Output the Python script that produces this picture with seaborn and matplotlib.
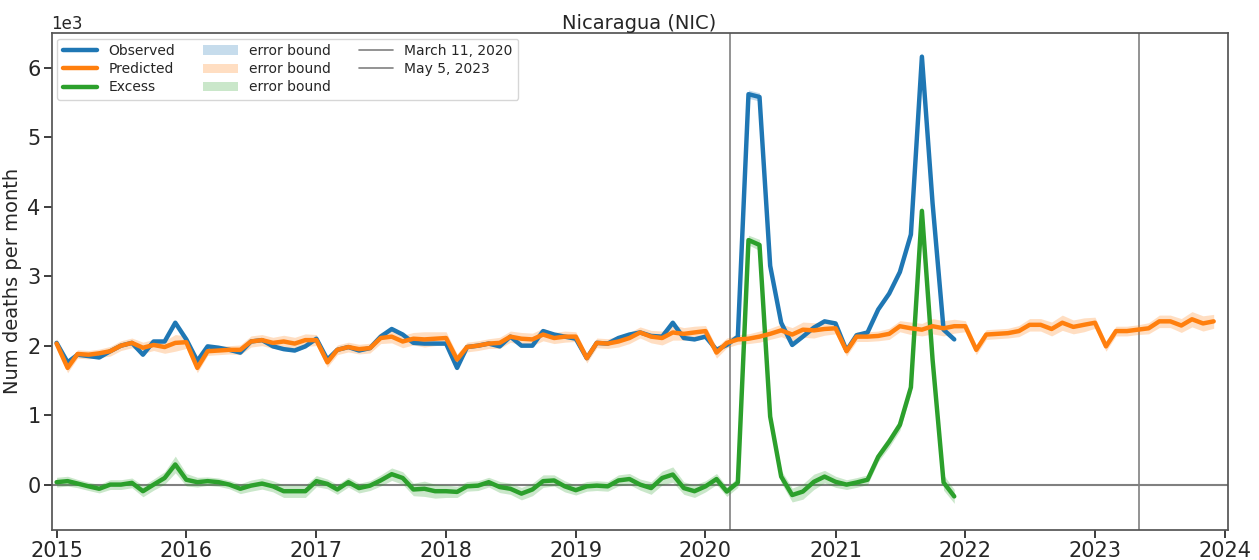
import matplotlib
import matplotlib.pyplot as plt
import matplotlib.dates as mdates
import pandas as pd
import seaborn as sns
from matplotlib.lines import Line2D
from matplotlib.patches import Patch

matplotlib.use("Agg")

sns.set_theme(style="ticks")
plt.rcParams["font.family"] = ["DejaVu Sans"]

# monthly values (deaths per month)
observed = [
    2040, 1760, 1870, 1850, 1830, 1920, 2000, 2040, 1870, 2060, 2060, 2330,
    2090, 1780, 1990, 1970, 1940, 1900, 2060, 2080, 1990, 1950, 1930, 1990,
    2100, 1800, 1940, 1980, 1930, 1965, 2130, 2240, 2160, 2040, 2030, 2030,
    2030, 1680, 1980, 2000, 2030, 1990, 2130, 2000, 2000, 2210, 2160, 2130,
    2100, 1820, 2040, 2030, 2110, 2160, 2190, 2140, 2130, 2330, 2110, 2090,
    2130, 1940, 2010, 2130, 5620, 5580, 3150, 2330, 2010, 2130, 2260, 2350,
    2320, 1930, 2150, 2190, 2520, 2750, 3060, 3600, 6160, 4050, 2230, 2090,
]
predicted = [
    2030, 1680, 1880, 1870, 1890, 1920, 2000, 2040, 1970, 2010, 1980, 2040,
    2050, 1680, 1920, 1930, 1940, 1940, 2060, 2080, 2040, 2060, 2030, 2080,
    2080, 1760, 1940, 1980, 1950, 1965, 2110, 2130, 2060, 2100, 2090, 2100,
    2110, 1800, 1980, 2000, 2030, 2040, 2130, 2100, 2090, 2160, 2110, 2130,
    2130, 1820, 2040, 2030, 2060, 2110, 2190, 2130, 2110, 2190, 2170, 2190,
    2210, 1900, 2040, 2090, 2100, 2130, 2170, 2220, 2160, 2230, 2220, 2240,
    2250, 1920, 2130, 2130, 2140, 2170, 2280, 2250, 2230, 2280, 2250, 2280,
    2280, 1940, 2160, 2170, 2180, 2210, 2300, 2300, 2240, 2330, 2270, 2300,
    2330, 1990, 2210, 2210, 2230, 2250, 2350, 2350, 2290, 2380, 2320, 2350,
]
excess = [
    35, 50, 15, -25, -60, 0, 0, 25, -95, 0, 95, 290,
    70, 35, 50, 35, 0, -60, -15, 15, -25, -95, -95, -95,
    50, 10, -70, 35, -50, -15, 60, 150, 95, -70, -60, -95,
    -95, -105, -25, -15, 35, -35, -60, -130, -70, 50, 60, -25,
    -80, -25, -15, -25, 60, 80, 0, -50, 95, 145, -50, -95,
    -25, 80, -100, 30, 3520, 3450, 980, 115, -150, -100, 40, 115,
    40, 0, 30, 70, 400, 620, 860, 1400, 3940, 1800, 30, -170,
]
# half widths of the shaded error bounds
obs_err = [
    20, 20, 20, 20, 20, 20, 20, 20, 20, 20, 20, 30,
    20, 20, 20, 20, 20, 20, 20, 20, 20, 20, 20, 20,
    20, 20, 20, 20, 20, 20, 20, 25, 20, 20, 20, 20,
    20, 20, 20, 20, 20, 20, 20, 20, 20, 20, 20, 20,
    20, 20, 20, 20, 20, 20, 20, 20, 20, 25, 20, 20,
    20, 20, 20, 20, 60, 60, 35, 25, 20, 20, 20, 25,
    25, 20, 20, 20, 25, 30, 30, 35, 60, 35, 25, 20,
]
pred_err = [
    70, 70, 60, 60, 60, 70, 70, 70, 80, 80, 90, 120,
    90, 70, 60, 60, 60, 70, 80, 80, 80, 90, 90, 90,
    80, 70, 70, 70, 70, 70, 80, 90, 90, 90, 110, 100,
    90, 80, 70, 70, 70, 80, 80, 90, 90, 90, 80, 80,
    70, 70, 70, 70, 80, 80, 80, 90, 100, 110, 90, 90,
    80, 80, 70, 70, 70, 80, 80, 90, 100, 110, 110, 90,
    80, 70, 70, 70, 70, 80, 80, 90, 90, 110, 110, 100,
    80, 70, 70, 70, 70, 80, 90, 90, 100, 110, 100, 100,
    80, 70, 70, 70, 70, 80, 90, 90, 100, 110, 110, 100,
]

country = "Nicaragua (NIC)"
event_dates = ["2020-03-11", "2023-05-05"]
event_labels = ["March 11, 2020", "May 5, 2023"]

obs_months = pd.date_range("2015-01-01", periods=len(observed), freq="MS")
pred_months = pd.date_range("2015-01-01", periods=len(predicted), freq="MS")

df_obs = pd.DataFrame({"month": obs_months, "value": observed, "err": obs_err})
df_pred = pd.DataFrame({"month": pred_months, "value": predicted, "err": pred_err})
df_exc = pd.DataFrame({"month": obs_months, "value": excess,
                       "err": pred_err[:len(excess)]})

colors = sns.color_palette("tab10")
c_obs, c_pred, c_exc = colors[0], colors[1], colors[2]

fig = plt.figure(figsize=(12.59, 5.6), dpi=100)
ax = fig.add_axes([0.041, 0.054, 0.934, 0.887])

ax.axhline(0, color="gray", lw=1.5, zorder=1)
for d in event_dates:
    ax.axvline(pd.Timestamp(d), color="gray", lw=1.2, zorder=1)

for df, col in [(df_obs, c_obs), (df_pred, c_pred), (df_exc, c_exc)]:
    ax.fill_between(df["month"], df["value"] - df["err"], df["value"] + df["err"],
                    color=col, alpha=0.25, lw=0, zorder=2)

sns.lineplot(data=df_obs, x="month", y="value", color=c_obs, lw=3.2, ax=ax, zorder=3)
sns.lineplot(data=df_pred, x="month", y="value", color=c_pred, lw=3.2, ax=ax, zorder=4)
sns.lineplot(data=df_exc, x="month", y="value", color=c_exc, lw=3.2, ax=ax, zorder=3)

ax.set_xlim(pd.Timestamp("2014-12-18"), pd.Timestamp("2024-01-09"))
ax.set_ylim(-650, 6500)
ax.xaxis.set_major_locator(mdates.YearLocator())
ax.xaxis.set_major_formatter(mdates.DateFormatter("%Y"))
ax.ticklabel_format(axis="y", style="sci", scilimits=(3, 3))
ax.yaxis.get_offset_text().set_fontsize(12)
ax.tick_params(labelsize=15, pad=2)
ax.set_xlabel("")
ax.set_ylabel("Num deaths per month", fontsize=14, labelpad=4)
ax.set_title(country, fontsize=14, pad=3)
for s in ax.spines.values():
    s.set_color("#555555")

handles = [
    Line2D([], [], color=c_obs, lw=3.2, label="Observed"),
    Line2D([], [], color=c_pred, lw=3.2, label="Predicted"),
    Line2D([], [], color=c_exc, lw=3.2, label="Excess"),
    Patch(color=c_obs, alpha=0.25, lw=0, label="error bound"),
    Patch(color=c_pred, alpha=0.25, lw=0, label="error bound"),
    Patch(color=c_exc, alpha=0.25, lw=0, label="error bound"),
    Line2D([], [], color="gray", lw=1.2, label=event_labels[0]),
    Line2D([], [], color="gray", lw=1.2, label=event_labels[1]),
]
ax.legend(handles=handles, loc="upper left", ncol=3, fontsize=10,
          handlelength=2.5, columnspacing=2.0, labelspacing=0.3,
          borderaxespad=0.4, framealpha=0.8)

fig.savefig("out.png", dpi=100)
plt.close(fig)
